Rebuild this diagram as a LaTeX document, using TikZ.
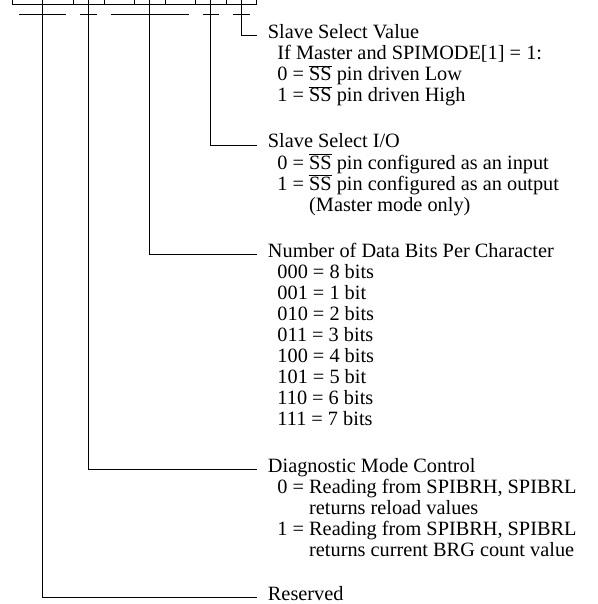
\documentclass[tikz,border=0pt]{standalone}
\usepackage{fontspec}
\setmainfont{Liberation Serif}
\usetikzlibrary{positioning}
\newcommand{\nss}{\smash{$\overline{\mbox{SS}}$}}

\begin{document}
\begin{tikzpicture}[x=1pt,y=-1pt,line width=0.9pt,font=\fontsize{20.3}{21}\selectfont,
  cell/.style={draw,minimum width=30.55pt,minimum height=20pt,inner sep=0pt,outer sep=0pt,anchor=south west},
  head/.style={anchor=base west,inner sep=0pt},
  body/.style={anchor=north west,inner sep=0pt,align=left}]
\useasboundingbox (0,0) rectangle (597,604);
\clip (0,0) rectangle (597,604);
\foreach \b [count=\i from 0] in {7,...,0} {\node[cell] (b\b) at (12.3+30.55*\i,4) {};}
\draw ([shift={(7,10)}]b7.south west) -- ([shift={(-7,10)}]b6.south east);
\draw ([shift={(7,10)}]b5.south west) -- ([shift={(-7,10)}]b5.south east);
\draw ([shift={(7,10)}]b4.south west) -- ([shift={(-7,10)}]b2.south east);
\draw ([shift={(7,10)}]b1.south west) -- ([shift={(-7,10)}]b1.south east);
\draw ([shift={(7,10)}]b0.south west) -- ([shift={(-7,10)}]b0.south east);
\coordinate (f76) at ([yshift=10]b7.south east);
\coordinate (f5) at ([yshift=10]b5.south);
\coordinate (f42) at ([yshift=10]b3.south);
\coordinate (f1) at ([yshift=10]b1.south);
\coordinate (f0) at ([yshift=10]b0.south);
\node[head] (ssv) at (267.5,38.5) {Slave Select Value};
\node[body] (ssvtxt) at ([shift={(9.5,6.3)}]ssv.base west) {\strut If Master and SPIMODE[1] = 1:\\0 = \nss{} pin driven Low\\1 = \nss{} pin driven High};
\node[head] (ssio) at (267.5,148) {Slave Select I/O};
\node[body] (ssiotxt) at ([shift={(9.5,6.3)}]ssio.base west) {\strut 0 = \nss{} pin configured as an input\\1 = \nss{} pin configured as an output\\\hphantom{1 = }(Master mode only)};
\node[head] (nbits) at (267.5,257.5) {Number of Data Bits Per Character};
\node[body] (nbitstxt) at ([shift={(9.5,6.3)}]nbits.base west) {\strut 000 = 8 bits\\001 = 1 bit\\010 = 2 bits\\011 = 3 bits\\100 = 4 bits\\101 = 5 bit\\110 = 6 bits\\111 = 7 bits};
\node[head] (diag) at (267.5,472.5) {Diagnostic Mode Control};
\node[body] (diagtxt) at ([shift={(9.5,6.3)}]diag.base west) {\strut 0 = Reading from SPIBRH, SPIBRL\\\hphantom{0 = }returns reload values\\1 = Reading from SPIBRH, SPIBRL\\\hphantom{1 = }returns current BRG count value};
\node[head] (rsvd) at (267.5,600.5) {Reserved};
\draw (f0) |- ([shift={(-11,-3)}]ssv.base west);
\draw (f1) |- ([shift={(-11,-3)}]ssio.base west);
\draw (f42) |- ([shift={(-11,-3)}]nbits.base west);
\draw (f5) |- ([shift={(-11,-3)}]diag.base west);
\draw (f76) |- ([shift={(-11,-3)}]rsvd.base west);
\end{tikzpicture}
\end{document}
